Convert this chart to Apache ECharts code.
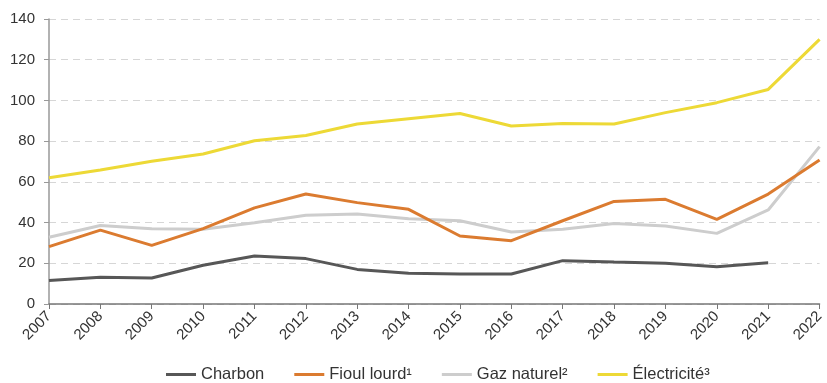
<!DOCTYPE html>
<html>
<head>
<meta charset="utf-8">
<script src="https://cdn.jsdelivr.net/npm/echarts@6/dist/echarts.min.js"></script>
<style>
  html, body { margin: 0; padding: 0; background: #fff; }
  #chart { width: 827px; height: 383px; }
</style>
</head>
<body>
<div id="chart"></div>
<script>
// Années
const years = ['2007','2008','2009','2010','2011','2012','2013','2014','2015','2016','2017','2018','2019','2020','2021','2022'];

// Séries par énergie
const charbon = [11.5, 13.1, 12.8, 19.0, 23.6, 22.3, 17.0, 15.1, 14.7, 14.7, 21.3, 20.6, 20.0, 18.3, 20.3, null];
const fioulLourd = [28.2, 36.3, 28.8, 37.0, 47.2, 54.0, 49.8, 46.5, 33.4, 31.1, 40.9, 50.4, 51.4, 41.6, 54.0, 70.7];
const gazNaturel = [32.8, 38.6, 37.0, 36.7, 39.9, 43.6, 44.2, 41.9, 40.9, 35.4, 36.7, 39.6, 38.3, 34.7, 46.2, 77.3];
const electricite = [62.0, 65.8, 70.1, 73.7, 80.2, 82.8, 88.4, 91.0, 93.6, 87.4, 88.7, 88.4, 94.0, 98.9, 105.4, 130.0];

const seriesNames = ['Charbon', 'Fioul lourd\u00B9', 'Gaz naturel\u00B2', '\u00C9lectricit\u00E9\u00B3'];
const seriesData = [charbon, fioulLourd, gazNaturel, electricite];
const seriesColors = ['#575757', '#DB7B30', '#CDCDCD', '#EDD936'];

const font = '"Liberation Sans", Arial, sans-serif';

const chart = echarts.init(document.getElementById('chart'), null, { renderer: 'canvas' });

chart.setOption({
  animation: false,
  textStyle: { fontFamily: font },
  grid: { left: 49, right: 4, top: 19, bottom: 79, containLabel: false },
  legend: {
    top: 366,
    left: 166,
    padding: 0,
    itemWidth: 30,
    itemHeight: 3,
    itemGap: 30,
    icon: 'rect',
    textStyle: { fontFamily: font, fontSize: 16.5, color: '#333' },
    data: seriesNames
  },
  xAxis: {
    type: 'category',
    data: years,
    boundaryGap: false,
    axisLine: { lineStyle: { color: '#777', width: 1.5 } },
    axisTick: { show: true, length: 5, interval: 0, lineStyle: { color: '#777' } },
    axisLabel: { rotate: 45, interval: 0, fontSize: 15, color: '#333', margin: 10, fontFamily: font }
  },
  yAxis: {
    type: 'value',
    min: 0,
    max: 140,
    interval: 20,
    axisLine: { show: true, lineStyle: { color: '#999', width: 1.5 } },
    axisTick: { show: true, length: 5, lineStyle: { color: '#999' } },
    axisLabel: { fontSize: 15, color: '#333', margin: 14, fontFamily: font },
    splitLine: { show: true, lineStyle: { color: '#d6d6d6', type: [7, 5], width: 1 } }
  },
  series: seriesNames.map((name, i) => ({
    name: name,
    type: 'line',
    data: seriesData[i],
    symbol: 'none',
    connectNulls: false,
    lineStyle: { color: seriesColors[i], width: 3 },
    itemStyle: { color: seriesColors[i] },
    z: i === 1 ? 4 : 3
  }))
});
</script>
</body>
</html>
